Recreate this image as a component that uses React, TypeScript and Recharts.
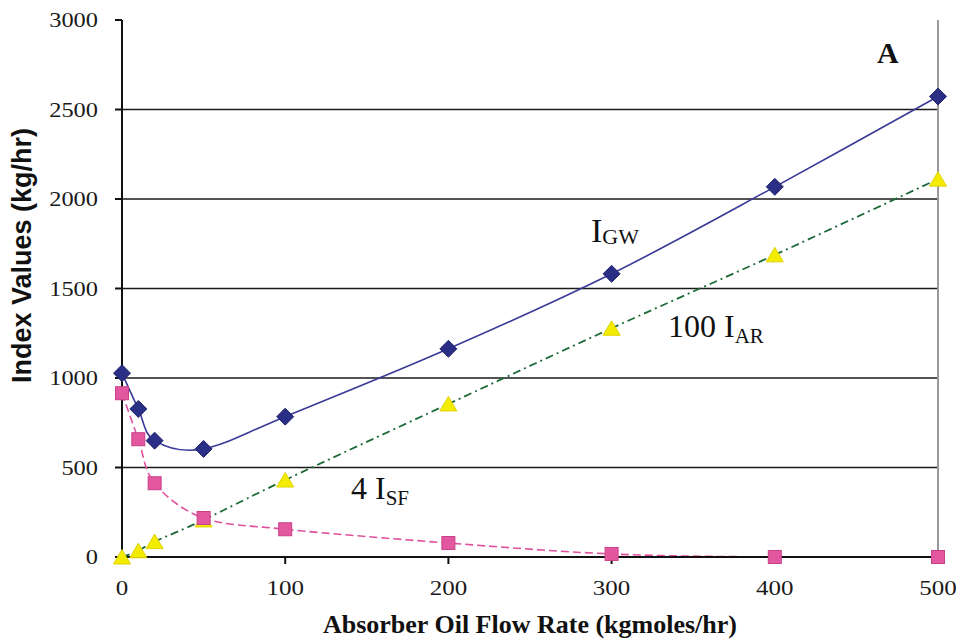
import React from 'react'
import {
  LineChart,
  Line,
  XAxis,
  YAxis,
  ReferenceLine,
} from 'recharts'

const flowRate = [0, 10, 20, 50, 100, 200, 300, 400, 500]
const igw = [1027, 827, 650, 604, 784, 1163, 1582, 2068, 2573]
const isf4 = [915, 658, 412, 218, 155, 78, 17, 0, 0]
const iar100 = [0, 35, 86, 207, 430, 855, 1278, 1688, 2111]

const xTicks = [0, 100, 200, 300, 400, 500]
const yTicks = [0, 500, 1000, 1500, 2000, 2500, 3000]
const gridValues = [500, 1000, 1500, 2000, 2500]

const data = flowRate.map((x, i) => ({
  x,
  igw: igw[i],
  isf: isf4[i],
  iar: iar100[i],
}))

const SERIF = '"Liberation Serif", "Times New Roman", serif'
const SANS = '"Liberation Sans", Arial, sans-serif'

// excel-style smoothed line (catmull-rom through the points)
function excelSmooth(ctx: any) {
  let pts: number[][] = []
  return {
    areaStart() {},
    areaEnd() {},
    lineStart() {
      pts = []
    },
    point(x: number, y: number) {
      pts.push([+x, +y])
    },
    lineEnd() {
      const n = pts.length
      if (!n) return
      ctx.moveTo(pts[0][0], pts[0][1])
      for (let i = 0; i < n - 1; i++) {
        const p0 = pts[Math.max(i - 1, 0)]
        const p1 = pts[i]
        const p2 = pts[i + 1]
        const p3 = pts[Math.min(i + 2, n - 1)]
        ctx.bezierCurveTo(
          p1[0] + (p2[0] - p0[0]) / 6,
          p1[1] + (p2[1] - p0[1]) / 6,
          p2[0] - (p3[0] - p1[0]) / 6,
          p2[1] - (p3[1] - p1[1]) / 6,
          p2[0],
          p2[1]
        )
      }
    },
  }
}

const Diamond = (props: any) => {
  const { cx, cy } = props
  if (cx == null || cy == null) return null
  const r = 8.5
  return (
    <path
      d={`M${cx},${cy - r}L${cx + r},${cy}L${cx},${cy + r}L${cx - r},${cy}Z`}
      fill="#2b2e85"
      stroke="#23266e"
      strokeWidth={1}
    />
  )
}

const Square = (props: any) => {
  const { cx, cy } = props
  if (cx == null || cy == null) return null
  const r = 6.5
  return (
    <rect
      x={cx - r}
      y={cy - r}
      width={r * 2}
      height={r * 2}
      fill="#e2579f"
      stroke="#c9408a"
      strokeWidth={1}
    />
  )
}

const Triangle = (props: any) => {
  const { cx, cy } = props
  if (cx == null || cy == null) return null
  return (
    <path
      d={`M${cx},${cy - 7.5}L${cx + 8.5},${cy + 7}L${cx - 8.5},${cy + 7}Z`}
      fill="#f3eb00"
      stroke="#e0d400"
      strokeWidth={1}
    />
  )
}

const YTick = (props: any) => {
  const { x, y, payload } = props
  return (
    <text
      transform={`translate(${x},${y + 7}) scale(1.22,1)`}
      textAnchor="end"
      fontSize={20}
      fontFamily={SERIF}
      fill="#1a1a1a"
    >
      {payload.value}
    </text>
  )
}

const XTick = (props: any) => {
  const { x, y, payload } = props
  return (
    <text
      transform={`translate(${x},${y + 23}) scale(1.25,1)`}
      textAnchor="middle"
      fontSize={20}
      fontFamily={SERIF}
      fill="#1a1a1a"
    >
      {payload.value}
    </text>
  )
}

const YTitle = (props: any) => {
  const vb = props.viewBox || { y: 20, height: 537 }
  const cy = vb.y + vb.height / 2 - 33
  return (
    <text
      transform={`translate(31,${cy}) rotate(-90)`}
      textAnchor="middle"
      fontSize={27}
      fontWeight="bold"
      fontFamily={SANS}
      fill="#111"
    >
      Index Values (kg/hr)
    </text>
  )
}

export default function App() {
  return (
    <div style={{ position: 'relative', width: 956, height: 639 }}>
      <style>{'body{margin:0;background:#fff}'}</style>
      <LineChart
        width={956}
        height={639}
        data={data}
        margin={{ top: 20, right: 18, left: 0, bottom: 0 }}
      >
        <XAxis
          dataKey="x"
          type="number"
          domain={[0, 500]}
          ticks={xTicks}
          interval={0}
          height={82}
          stroke="#111"
          strokeWidth={2}
          tickSize={7}
          tickMargin={8}
          tick={<XTick />}
          label={{
            value: 'Absorber Oil Flow Rate (kgmoles/hr)',
            position: 'insideBottom',
            offset: 6,
            fontSize: 26,
            fontWeight: 'bold',
            fontFamily: SERIF,
            fill: '#111',
          }}
        />
        <YAxis
          type="number"
          domain={[0, 3000]}
          ticks={yTicks}
          interval={0}
          width={122}
          stroke="#111"
          strokeWidth={2}
          tickSize={7}
          tickMargin={17}
          tick={<YTick />}
          label={<YTitle />}
        />
        {gridValues.map((v) => (
          <ReferenceLine key={v} y={v} stroke="#1a1a1a" strokeWidth={1.6} />
        ))}
        <ReferenceLine x={500} stroke="#9a9a9a" strokeWidth={2} />
        <Line
          dataKey="iar"
          type={excelSmooth as any}
          stroke="#1d6a38"
          strokeWidth={1.8}
          strokeDasharray="8 4 2 4"
          dot={<Triangle />}
          activeDot={false}
          isAnimationActive={false}
        />
        <Line
          dataKey="isf"
          type={excelSmooth as any}
          stroke="#e0509e"
          strokeWidth={1.6}
          strokeDasharray="8 4"
          dot={<Square />}
          activeDot={false}
          isAnimationActive={false}
        />
        <Line
          dataKey="igw"
          type={excelSmooth as any}
          stroke="#3a3a98"
          strokeWidth={1.6}
          dot={<Diamond />}
          activeDot={false}
          isAnimationActive={false}
        />
      </LineChart>
      <svg
        width={956}
        height={639}
        style={{ position: 'absolute', left: 0, top: 0, pointerEvents: 'none' }}
      >
        <text x={591} y={242} fontSize={34} fontFamily={SERIF} fill="#111">
          I
          <tspan fontSize={22} dy={2}>
            GW
          </tspan>
        </text>
        <text x={668} y={337} fontSize={32} fontFamily={SERIF} fill="#111">
          100 I
          <tspan fontSize={21} dy={6}>
            AR
          </tspan>
        </text>
        <text x={351} y={499} fontSize={32} fontFamily={SERIF} fill="#111">
          4 I
          <tspan fontSize={21} dy={6}>
            SF
          </tspan>
        </text>
        <text
          x={877}
          y={63}
          fontSize={30}
          fontWeight="bold"
          fontFamily={SERIF}
          fill="#111"
        >
          A
        </text>
      </svg>
    </div>
  )
}
